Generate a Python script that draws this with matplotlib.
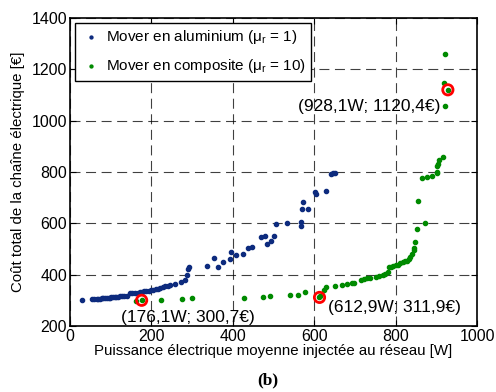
import numpy as np
import matplotlib
matplotlib.use("Agg")
import matplotlib.pyplot as plt

plt.rcParams['font.family'] = ['Liberation Sans', 'DejaVu Sans']
plt.rcParams['mathtext.fontset'] = 'custom'
plt.rcParams['mathtext.rm'] = 'Liberation Sans'
plt.rcParams['mathtext.it'] = 'Liberation Sans'

# Mover en aluminium (mu_r = 1)
alu_w = [30, 55, 60, 66, 70, 75, 78, 82, 86, 90, 95, 99, 102, 106, 110, 114, 118, 122, 127,
         133, 139, 147, 152, 160, 167, 172, 178, 183, 188, 195, 200, 205, 212, 217, 221,
         228, 234, 240, 246, 258, 272, 283, 287, 291, 293, 337, 353, 363, 377, 394, 396,
         408, 424, 438, 448, 469, 478, 483, 493, 500, 506, 534, 567, 567, 570, 572, 584,
         602, 604, 630, 641, 645, 650]
alu_c = [302, 304, 304, 305, 306, 307, 308, 308, 309, 309, 310, 311, 312, 312, 313, 314, 315, 316, 317,
         318, 319, 330, 330, 331, 331, 332, 334, 335, 336, 338, 339, 341, 343, 344, 347,
         352, 357, 358, 360, 366, 373, 379, 401, 421, 431, 436, 464, 429, 449, 462, 488,
         479, 482, 505, 508, 547, 551, 518, 531, 553, 596, 601, 606, 591, 658, 682, 658,
         721, 716, 725, 792, 795, 797]

# Mover en composite (mu_r = 10)
comp_w = [162, 176, 223, 276, 299, 428, 474, 491, 541, 559, 578, 612, 615, 623, 629, 651, 668,
          680, 693, 697, 715, 721, 730, 738, 752, 760, 768, 774, 780, 783, 788, 794, 800, 806,
          811, 818, 823, 828, 832, 836, 840, 844, 846, 848, 852, 854, 865, 872, 878, 889,
          901, 901, 902, 903, 907, 915, 919, 922, 922, 928]
comp_c = [299, 301, 302, 305, 311, 311, 313, 316, 321, 321, 334, 312, 318, 339, 351, 356, 360,
          366, 369, 367, 380, 383, 386, 388, 392, 395, 398, 402, 410, 429, 431, 433, 437, 440,
          444, 448, 452, 455, 462, 470, 480, 496, 505, 528, 579, 687, 778, 602, 780, 783,
          797, 800, 823, 831, 847, 860, 1148, 1260, 1057, 1120]

# Points remarquables
hl_w = [176.1, 612.9, 928.1]
hl_c = [300.7, 311.9, 1120.4]
hl_txt = ['(176,1W; 300,7€)', '(612,9W; 311,9€)', '(928,1W; 1120,4€)']

fig = plt.figure(figsize=(4.96, 3.92), dpi=100)
ax = fig.add_axes([0.141, 0.168, 0.821, 0.786])

ax.scatter(alu_w, alu_c, s=9, color='#0d2b7e', zorder=3,
           label='Mover en aluminium (μ$_{\\mathrm{r}}$ = 1)')
ax.scatter(comp_w, comp_c, s=9, color='#008a00', zorder=3,
           label='Mover en composite (μ$_{\\mathrm{r}}$ = 10)')
ax.scatter(hl_w, hl_c, s=55, facecolors='none', edgecolors='red', linewidths=2, zorder=4)

ax.text(125, 235, hl_txt[0], fontsize=12.5, ha='left', va='center')
ax.text(634, 274, hl_txt[1], fontsize=12.5, ha='left', va='center')
ax.text(909, 1057, hl_txt[2], fontsize=12.5, ha='right', va='center')

ax.set_xlim(0, 1000)
ax.set_ylim(200, 1400)
ax.set_xticks([0, 200, 400, 600, 800, 1000])
ax.set_yticks([200, 400, 600, 800, 1000, 1200, 1400])
ax.grid(True, color='black', linestyle=(0, (9, 5)), linewidth=0.8, alpha=0.75)
ax.set_axisbelow(True)
ax.tick_params(direction='in', labelsize=11.5, top=True, right=True, length=4, pad=2)
for s in ax.spines.values():
    s.set_linewidth(1.2)

ax.set_xlabel('Puissance électrique moyenne injectée au réseau [W]', fontsize=10.8, labelpad=0)
ax.set_ylabel('Coût total de la chaîne électrique [€]', fontsize=10.8, labelpad=5)

leg = ax.legend(loc='upper left', fontsize=11, markerscale=0.7, handletextpad=0.3,
                borderaxespad=0.3, fancybox=False, framealpha=1, edgecolor='black',
                handlelength=1.4, labelspacing=0.75, borderpad=0.35)
leg.get_frame().set_linewidth(1.0)

fig.text(0.54, 0.008, '(b)', fontsize=12.5, fontweight='bold', family='Liberation Serif',
         ha='center', va='bottom')

fig.savefig('out.png', dpi=100)
